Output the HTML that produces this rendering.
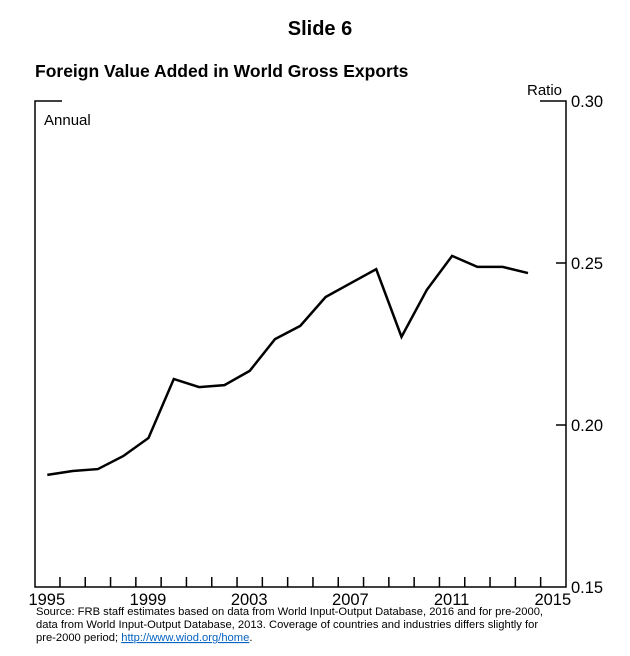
<!DOCTYPE html>
<html><head><meta charset="utf-8"><style>
body{margin:0;background:#fff;width:630px;height:656px;overflow:hidden;font-family:"Liberation Sans",sans-serif}
</style></head><body>
<svg width="630" height="656" style="position:absolute;left:0;top:0">
<text x="320" y="35" text-anchor="middle" font-size="20" font-weight="bold">Slide 6</text>
<text x="35" y="77" font-size="17.5" font-weight="bold">Foreign Value Added in World Gross Exports</text>
<text x="527" y="95" font-size="15">Ratio</text>
<text x="44" y="125" font-size="15">Annual</text>
<g id="axes" stroke="#000" stroke-width="1.5" fill="none">
<path d="M62,101 H35 V587 H566 V101 H540"/>
</g>
<g id="ticks" stroke="#000" stroke-width="1.5"></g>
<g id="labels" font-size="16.5"></g>
<path id="line" fill="none" stroke="#000" stroke-width="2.5" stroke-linejoin="miter"/>
<text font-size="11.2">
<tspan x="36" y="615">Source: FRB staff estimates based on data from World Input-Output Database, 2016 and for pre-2000,</tspan>
<tspan x="36" y="628">data from World Input-Output Database, 2013. Coverage of countries and industries differs slightly for</tspan>
<tspan x="36" y="641">pre-2000 period; <tspan fill="#0563c1" text-decoration="underline">http://www.wiod.org/home</tspan>.</tspan>
</text>
</svg>
<script>
const years=[1995,1996,1997,1998,1999,2000,2001,2002,2003,2004,2005,2006,2007,2008,2009,2010,2011,2012,2013,2014];
const values=[0.1846,0.1858,0.1864,0.1904,0.196,0.2142,0.2117,0.2123,0.2167,0.2265,0.2306,0.2395,0.2438,0.2481,0.2272,0.2417,0.2522,0.2488,0.2488,0.2469];
const yTicks=[0.15,0.20,0.25,0.30];
const xLabels=[1995,1999,2003,2007,2011,2015];
const NS="http://www.w3.org/2000/svg";
const x=y=>47.3+(y-1995)*25.3;
const yv=v=>587-(v-0.15)*3240;
const line=document.getElementById('line');
line.setAttribute('d',years.map((yr,i)=>(i?'L':'M')+x(yr)+','+yv(values[i])).join(' '));
const tg=document.getElementById('ticks'),lg=document.getElementById('labels');
for(let yr=1995;yr<2015;yr++){const t=document.createElementNS(NS,'line');const xx=x(yr)+12.65;
t.setAttribute('x1',xx);t.setAttribute('x2',xx);t.setAttribute('y1',577);t.setAttribute('y2',587);


tg.appendChild(t);}
xLabels.forEach(yr=>{const t=document.createElementNS(NS,'text');t.setAttribute('x',x(yr)-0.5);t.setAttribute('y',605);t.setAttribute('text-anchor','middle');t.textContent=yr;


lg.appendChild(t);});
yTicks.forEach(v=>{const yy=yv(v);
if(v>0.15&&v<0.30){const t=document.createElementNS(NS,'line');t.setAttribute('x1',556);t.setAttribute('x2',566);t.setAttribute('y1',yy);t.setAttribute('y2',yy);


tg.appendChild(t);}
const l=document.createElementNS(NS,'text');l.setAttribute('x',571);l.setAttribute('y',yy+6);l.textContent=v.toFixed(2);


lg.appendChild(l);});
</script>
</body></html>
